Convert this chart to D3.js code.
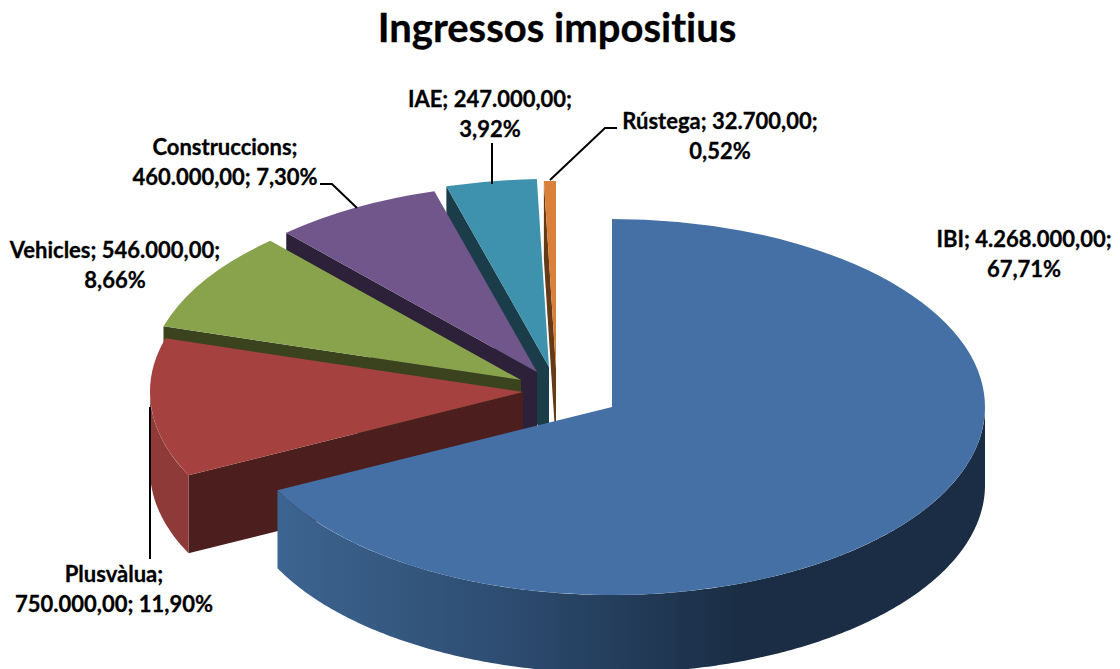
<!DOCTYPE html>
<html lang="ca">
<head>
  <meta charset="utf-8">
  <title>Ingressos impositius</title>
  <script src="https://d3js.org/d3.v7.min.js"></script>
  <style>
    * { box-sizing: border-box; margin: 0; padding: 0; }
    html, body { width: 1120px; height: 669px; background: #fff; overflow: hidden; }
    svg { display: block; font-family: Lato, sans-serif; font-weight: bold; font-variant-ligatures: none; }
    text { fill: #000; stroke: #000; stroke-width: 0.3px; }
    .label { font-size: 22px; }
    .title { font-size: 40px; }
    .leader { fill: none; stroke: #000; stroke-width: 2px; }
  </style>
</head>
<body>
  <svg id="chart" width="1120" height="669"></svg>

  <script>
  const categories = ["IBI", "Plusvàlua", "Vehicles", "Construccions", "IAE", "Rústega"];
  const values = [4268000, 750000, 546000, 460000, 247000, 32700];
  const valueLabels = ["4.268.000,00", "750.000,00", "546.000,00", "460.000,00", "247.000,00", "32.700,00"];
  const percentLabels = ["67,71%", "11,90%", "8,66%", "7,30%", "3,92%", "0,52%"];

  const topColors = ["#4470a6", "#a54240", "#88a34c", "#71568c", "#3f92ad", "#d9813b"];
  const wallColors = ["#1a2d44", "#8e3a38", "#5c6e33", "#4c3a5e", "#2a6274", "#93572a"];
  const faceColors = ["#1a2d44", "#4d1e1e", "#3a431e", "#2c2139", "#1b3d4a", "#653a16"];

  // where each slice's apex ends up once pulled out of the pie
  const apexX = [612, 523, 521, 537, 549, 556];
  const apexY = [407, 392, 380, 372, 367, 369];

  const rx = 373, ry = 188, depth = 78;

  // label anchors, in the same order as categories
  const labelX = [1024, 114, 115, 225, 490, 720];
  const labelY = [247, 582, 258, 155, 107, 129];
  const labelLines = [
    `${categories[0]}; ${valueLabels[0]};|${percentLabels[0]}`,
    `${categories[1]};|${valueLabels[1]}; ${percentLabels[1]}`,
    `${categories[2]}; ${valueLabels[2]};|${percentLabels[2]}`,
    `${categories[3]};|${valueLabels[3]}; ${percentLabels[3]}`,
    `${categories[4]}; ${valueLabels[4]};|${percentLabels[4]}`,
    `${categories[5]}; ${valueLabels[5]};|${percentLabels[5]}`
  ];
  const leaders = [
    [[150, 407], [150, 559]],
    [[320, 184], [332, 184], [357, 208]],
    [[492, 143], [492, 184]],
    [[617, 128], [605, 128], [550, 180]]
  ];

  const svg = d3.select("#chart");

  // horizontal shading on the big slice's outer wall
  const grad = svg.append("defs").append("linearGradient")
    .attr("id", "ibi-wall")
    .attr("gradientUnits", "userSpaceOnUse")
    .attr("x1", 275).attr("x2", 740).attr("y1", 0).attr("y2", 0);
  grad.append("stop").attr("offset", 0).attr("stop-color", "#3d6591");
  grad.append("stop").attr("offset", 0.5).attr("stop-color", "#2d4c70");
  grad.append("stop").attr("offset", 1).attr("stop-color", "#1a2d44");

  const slices = d3.pie().sort(null)(values);
  const arc = d3.arc().innerRadius(0).outerRadius(rx);
  const ratio = ry / rx;

  const rimX = (i, a) => apexX[i] + rx * Math.sin(a);
  const rimY = (i, a) => apexY[i] - ry * Math.cos(a);
  const line = d3.line();

  // back to front, so the nearer slices cover the faces behind them
  d3.range(slices.length - 1, -1, -1).forEach(i => {
    const s = slices[i];
    const g = svg.append("g").attr("class", "slice");

    // cut face along the slice's first edge
    const a0 = s.startAngle;
    g.append("path")
      .attr("d", line([
        [apexX[i], apexY[i]],
        [rimX(i, a0), rimY(i, a0)],
        [rimX(i, a0), rimY(i, a0) + depth],
        [apexX[i], apexY[i] + depth]
      ]) + "Z")
      .attr("fill", faceColors[i]);

    // outer wall only where the rim faces the viewer
    const from = Math.max(s.startAngle, Math.PI / 2);
    const to = Math.min(s.endAngle, Math.PI * 1.5);
    if (from < to) {
      const steps = d3.range(from, to, 0.01).concat(to);
      const upper = steps.map(a => [rimX(i, a), rimY(i, a)]);
      const lower = steps.slice().reverse().map(a => [rimX(i, a), rimY(i, a) + depth]);
      g.append("path")
        .attr("d", line(upper.concat(lower)) + "Z")
        .attr("fill", i === 0 ? "url(#ibi-wall)" : wallColors[i]);
    }

    // top surface, a flat arc squashed into the ellipse
    g.append("path")
      .attr("transform", `translate(${apexX[i]},${apexY[i]}) scale(1,${ratio})`)
      .attr("d", arc(s))
      .attr("fill", topColors[i]);
  });

  svg.selectAll("path.leader").data(leaders).join("path")
    .attr("class", "leader")
    .attr("d", d => line(d));

  svg.append("text").attr("class", "title")
    .attr("x", 557).attr("y", 42).attr("text-anchor", "middle")
    .text("Ingressos impositius");

  const labels = svg.selectAll("text.label").data(labelLines).join("text")
    .attr("class", "label")
    .attr("text-anchor", "middle");
  labels.selectAll("tspan").data((d, i) => d.split("|").map((t, k) => ({ t, x: labelX[i], y: labelY[i] + k * 29.5 }))).join("tspan")
    .attr("x", d => d.x)
    .attr("y", d => d.y)
    .text(d => d.t);
  </script>
</body>
</html>
